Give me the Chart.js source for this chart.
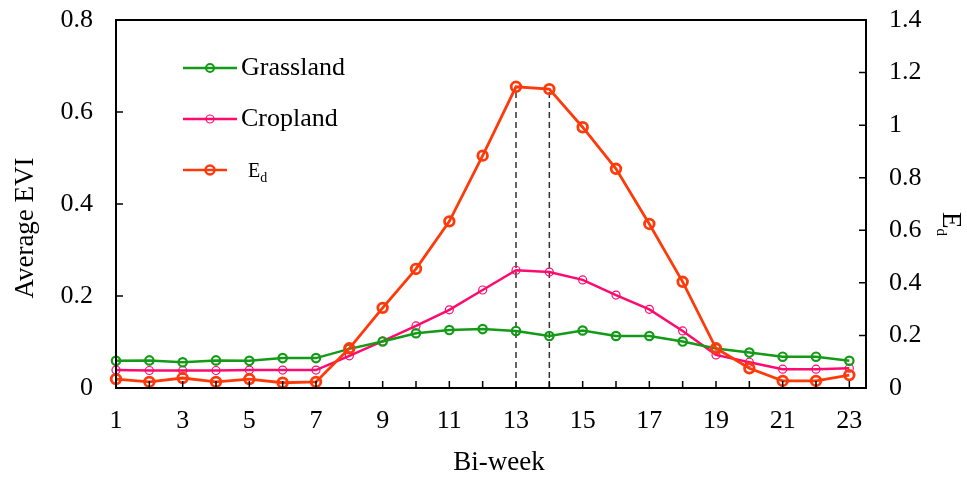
<!DOCTYPE html>
<html>
<head>
<meta charset="utf-8">
<script src="https://cdn.jsdelivr.net/npm/chart.js@4.4.1/dist/chart.umd.min.js"></script>
<style>
  html, body { margin: 0; padding: 0; background: #fff; }
  #wrap { width: 967px; height: 481px; position: relative; }
</style>
</head>
<body>
<div id="wrap"><canvas id="eviChart"></canvas></div>
<script>
const biWeeks = [1, 2, 3, 4, 5, 6, 7, 8, 9, 10, 11, 12, 13, 14, 15, 16, 17, 18, 19, 20, 21, 22, 23];
const grassland = [0.059, 0.060, 0.056, 0.060, 0.059, 0.065, 0.065, 0.085, 0.101, 0.119, 0.126, 0.128,
  0.124, 0.113, 0.125, 0.113, 0.113, 0.101, 0.086, 0.077, 0.068, 0.068, 0.059];
const cropland = [0.039, 0.038, 0.038, 0.038, 0.039, 0.039, 0.039, 0.070, 0.102, 0.135, 0.170, 0.213,
  0.256, 0.252, 0.235, 0.202, 0.171, 0.124, 0.072, 0.056, 0.041, 0.041, 0.043];
const ed = [0.034, 0.023, 0.038, 0.023, 0.034, 0.020, 0.023, 0.151, 0.305, 0.453, 0.634, 0.884,
  1.146, 1.137, 0.992, 0.834, 0.624, 0.404, 0.151, 0.075, 0.027, 0.027, 0.049];
const peakWeeks = [13, 14];

const GREEN = "#139a17";
const PINK = "#ff0a6e";
const ORANGE = "#ff3a0a";
const SERIF = "'Liberation Serif', 'Times New Roman', serif";

Chart.defaults.font.family = SERIF;
Chart.defaults.color = "#000";

const toPoints = (vals) => vals.map((v, i) => ({ x: biWeeks[i], y: v }));
const shortNum = (v) => String(Number(v.toFixed(1)));

// dashed guides from the axis up to the two Ed peak points
const peakLines = peakWeeks.map((w) => ({
  data: [{ x: w, y: 0 }, { x: w, y: ed[biWeeks.indexOf(w)] }],
  yAxisID: "y1",
  borderColor: "#333",
  borderWidth: 1.5,
  borderDash: [6, 4],
  pointRadius: 0,
  order: 4,
  clip: false,
}));

const legendItems = [
  { label: "Grassland", color: GREEN, radius: 4, width: 2, y: 68, textY: 75, len: 54 },
  { label: "Cropland", color: PINK, radius: 4, width: 1.2, y: 119, textY: 126, len: 54 },
  { label: "E", sub: "d", color: ORANGE, radius: 4.5, width: 2.5, y: 170, textY: 177, len: 44 },
];

// no extra room for half-labels: the plot box is placed by hand
const noPad = (s) => {
  s.paddingTop = 0;
  s.paddingBottom = 0;
  s.paddingLeft = 0;
  s.paddingRight = 0;
};

const framePlugin = {
  id: "frame",
  afterDraw(chart) {
    const { ctx, chartArea: a, scales } = chart;
    ctx.save();
    ctx.strokeStyle = "#000";
    ctx.lineWidth = 2;
    ctx.strokeRect(a.left, a.top, a.right - a.left, a.bottom - a.top);

    // inward tick marks
    ctx.lineWidth = 1.5;
    ctx.beginPath();
    scales.x.ticks.forEach((t) => {
      const px = scales.x.getPixelForValue(t.value);
      ctx.moveTo(px, a.bottom);
      ctx.lineTo(px, a.bottom - 7);
    });
    scales.y.ticks.forEach((t) => {
      const py = scales.y.getPixelForValue(t.value);
      ctx.moveTo(a.left, py);
      ctx.lineTo(a.left + 7, py);
    });
    scales.y1.ticks.forEach((t) => {
      const py = scales.y1.getPixelForValue(t.value);
      ctx.moveTo(a.right, py);
      ctx.lineTo(a.right - 7, py);
    });
    ctx.stroke();

    // axis titles
    ctx.fillStyle = "#000";
    ctx.font = "27px " + SERIF;
    ctx.textBaseline = "alphabetic";
    ctx.textAlign = "center";
    ctx.fillText("Bi-week", (a.left + a.right) / 2 + 8, 470);

    ctx.save();
    ctx.translate(33, 228);
    ctx.rotate(-Math.PI / 2);
    ctx.fillText("Average EVI", 0, 0);
    ctx.restore();

    ctx.save();
    ctx.translate(943, 212);
    ctx.rotate(Math.PI / 2);
    ctx.textAlign = "left";
    ctx.fillText("E", 0, 0);
    const ew = ctx.measureText("E").width;
    ctx.font = "15px " + SERIF;
    ctx.fillText("d", ew, 6);
    ctx.restore();

    // legend
    legendItems.forEach((it) => {
      ctx.strokeStyle = it.color;
      ctx.lineWidth = 2.5;
      ctx.beginPath();
      ctx.moveTo(183, it.y);
      ctx.lineTo(183 + it.len, it.y);
      ctx.stroke();
      ctx.lineWidth = it.width;
      ctx.beginPath();
      ctx.arc(210, it.y, it.radius, 0, Math.PI * 2);
      ctx.stroke();
      ctx.textAlign = "left";
      if (it.sub) {
        ctx.font = "20px " + SERIF;
        ctx.fillText(it.label, 248, it.textY);
        const w = ctx.measureText(it.label).width;
        ctx.font = "14px " + SERIF;
        ctx.fillText(it.sub, 248 + w, it.textY + 5);
      } else {
        ctx.font = "26px " + SERIF;
        ctx.fillText(it.label, 241, it.textY);
      }
    });
    ctx.restore();
  },
};

new Chart(document.getElementById("eviChart"), {
  type: "line",
  data: {
    datasets: [
      {
        label: "Ed",
        data: toPoints(ed),
        yAxisID: "y1",
        borderColor: ORANGE,
        borderWidth: 2.8,
        pointRadius: 4.8,
        pointBorderWidth: 2.8,
        pointBackgroundColor: "rgba(255,255,255,0)",
        pointBorderColor: ORANGE,
        order: 1,
        clip: false,
      },
      {
        label: "Grassland",
        data: toPoints(grassland),
        yAxisID: "y",
        borderColor: GREEN,
        borderWidth: 2.5,
        pointRadius: 4.2,
        pointBorderWidth: 2.2,
        pointBackgroundColor: "rgba(255,255,255,0)",
        pointBorderColor: GREEN,
        order: 2,
        clip: false,
      },
      {
        label: "Cropland",
        data: toPoints(cropland),
        yAxisID: "y",
        borderColor: PINK,
        borderWidth: 2.5,
        pointRadius: 4,
        pointBorderWidth: 1.2,
        pointBackgroundColor: "rgba(255,255,255,0)",
        pointBorderColor: PINK,
        order: 3,
        clip: false,
      },
      ...peakLines,
    ],
  },
  options: {
    responsive: true,
    maintainAspectRatio: false,
    animation: false,
    layout: { padding: { top: 20, left: 0, right: 0, bottom: 0 } },
    plugins: {
      legend: { display: false },
      tooltip: { enabled: false },
    },
    elements: { line: { tension: 0 } },
    scales: {
      x: {
        type: "linear",
        min: 1,
        max: 23.5,
        grid: { display: false, drawTicks: false },
        border: { display: false },
        afterBuildTicks: (s) => { s.ticks = biWeeks.map((v) => ({ value: v })); },
        ticks: {
          autoSkip: false,
          maxRotation: 0,
          padding: 18,
          font: { size: 26 },
          callback: (v) => (v % 2 === 1 ? String(v) : ""),
        },
        afterFit: (s) => { s.height = 93; noPad(s); },
      },
      y: {
        position: "left",
        min: 0,
        max: 0.8,
        grid: { display: false, drawTicks: false },
        border: { display: false },
        ticks: { stepSize: 0.2, padding: 23, font: { size: 26 }, callback: shortNum },
        afterFit: (s) => { s.width = 116; noPad(s); },
      },
      y1: {
        position: "right",
        min: 0,
        max: 1.4,
        grid: { display: false, drawTicks: false },
        border: { display: false },
        ticks: { stepSize: 0.2, padding: 23, font: { size: 26 }, callback: shortNum },
        afterFit: (s) => { s.width = 101; noPad(s); },
      },
    },
  },
  plugins: [framePlugin],
});
</script>
</body>
</html>
